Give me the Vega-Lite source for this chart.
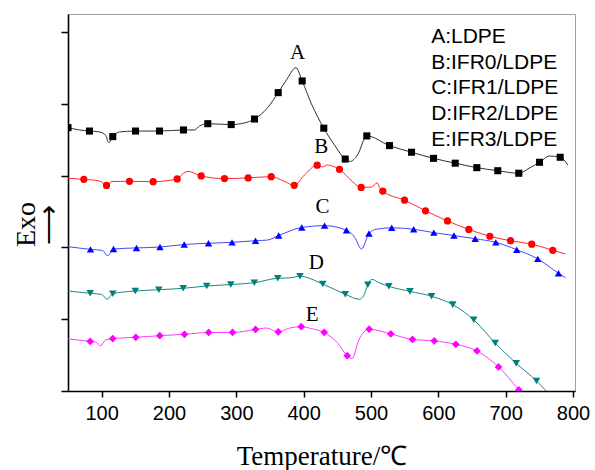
{
  "$schema": "https://vega.github.io/schema/vega-lite/v6.json",
  "width": 507,
  "height": 377,
  "autosize": "none",
  "padding": {"left": 68, "top": 14, "right": 20, "bottom": 79},
  "background": "white",
  "config": {
    "view": {"stroke": "#a0a0a0", "strokeWidth": 1},
    "axis": {"grid": false, "domainColor": "black", "domainWidth": 1.6, "tickColor": "#000000", "tickWidth": 1.5, "tickOpacity": 1, "labelColor": "black", "titleColor": "black", "titleFontWeight": "normal"}
  },
  "datasets": {
    "curves": [
      {"s": "A", "T": 50, "v": 14.67, "m": 1},
      {"s": "A", "T": 67.1, "v": 14.54, "m": 0},
      {"s": "A", "T": 81.9, "v": 14.48, "m": 1},
      {"s": "A", "T": 96.8, "v": 14.43, "m": 0},
      {"s": "A", "T": 105.7, "v": 14.26, "m": 0},
      {"s": "A", "T": 110.6, "v": 13.83, "m": 0},
      {"s": "A", "T": 116.5, "v": 14.17, "m": 1},
      {"s": "A", "T": 126.5, "v": 14.43, "m": 0},
      {"s": "A", "T": 150.3, "v": 14.48, "m": 1},
      {"s": "A", "T": 185.9, "v": 14.48, "m": 1},
      {"s": "A", "T": 221.5, "v": 14.54, "m": 1},
      {"s": "A", "T": 237.9, "v": 14.54, "m": 0},
      {"s": "A", "T": 245.3, "v": 14.76, "m": 0},
      {"s": "A", "T": 257.6, "v": 14.89, "m": 1},
      {"s": "A", "T": 292.4, "v": 14.84, "m": 1},
      {"s": "A", "T": 312.1, "v": 14.93, "m": 0},
      {"s": "A", "T": 327, "v": 15.15, "m": 1},
      {"s": "A", "T": 346.3, "v": 15.77, "m": 0},
      {"s": "A", "T": 362.2, "v": 16.62, "m": 1},
      {"s": "A", "T": 374.5, "v": 17.33, "m": 0},
      {"s": "A", "T": 388.6, "v": 18.01, "m": 0},
      {"s": "A", "T": 397.8, "v": 17.27, "m": 1},
      {"s": "A", "T": 411.6, "v": 15.99, "m": 0},
      {"s": "A", "T": 429.9, "v": 14.64, "m": 1},
      {"s": "A", "T": 445.8, "v": 13.7, "m": 0},
      {"s": "A", "T": 461.7, "v": 12.92, "m": 1},
      {"s": "A", "T": 469.6, "v": 12.79, "m": 0},
      {"s": "A", "T": 480, "v": 13.15, "m": 0},
      {"s": "A", "T": 493.8, "v": 14.21, "m": 1},
      {"s": "A", "T": 527.5, "v": 13.67, "m": 1},
      {"s": "A", "T": 560.2, "v": 13.3, "m": 1},
      {"s": "A", "T": 592.9, "v": 12.96, "m": 1},
      {"s": "A", "T": 625.1, "v": 12.69, "m": 1},
      {"s": "A", "T": 657.2, "v": 12.44, "m": 1},
      {"s": "A", "T": 688.3, "v": 12.27, "m": 1},
      {"s": "A", "T": 719.5, "v": 12.13, "m": 1},
      {"s": "A", "T": 735.4, "v": 12.42, "m": 0},
      {"s": "A", "T": 750.3, "v": 12.74, "m": 1},
      {"s": "A", "T": 765.2, "v": 13.09, "m": 0},
      {"s": "A", "T": 781, "v": 13.02, "m": 1},
      {"s": "A", "T": 792.3, "v": 12.59, "m": 0},

      {"s": "B", "T": 50, "v": 11.85, "m": 0},
      {"s": "B", "T": 73.5, "v": 11.79, "m": 1},
      {"s": "B", "T": 96.8, "v": 11.7, "m": 0},
      {"s": "B", "T": 107.2, "v": 11.45, "m": 1},
      {"s": "B", "T": 114.6, "v": 11.67, "m": 0},
      {"s": "B", "T": 141.3, "v": 11.68, "m": 1},
      {"s": "B", "T": 176.5, "v": 11.66, "m": 1},
      {"s": "B", "T": 212.2, "v": 11.81, "m": 1},
      {"s": "B", "T": 220.1, "v": 12.09, "m": 0},
      {"s": "B", "T": 228.2, "v": 12.23, "m": 0},
      {"s": "B", "T": 247.8, "v": 11.98, "m": 1},
      {"s": "B", "T": 282.4, "v": 11.83, "m": 1},
      {"s": "B", "T": 317.6, "v": 11.87, "m": 1},
      {"s": "B", "T": 351.8, "v": 11.94, "m": 1},
      {"s": "B", "T": 370, "v": 11.7, "m": 0},
      {"s": "B", "T": 386, "v": 11.46, "m": 1},
      {"s": "B", "T": 401.2, "v": 12.03, "m": 0},
      {"s": "B", "T": 420.1, "v": 12.58, "m": 1},
      {"s": "B", "T": 428, "v": 12.48, "m": 0},
      {"s": "B", "T": 435.4, "v": 12.59, "m": 0},
      {"s": "B", "T": 444.3, "v": 12.51, "m": 0},
      {"s": "B", "T": 453.2, "v": 12.35, "m": 1},
      {"s": "B", "T": 472.5, "v": 11.66, "m": 0},
      {"s": "B", "T": 485.4, "v": 11.34, "m": 1},
      {"s": "B", "T": 500.8, "v": 11.36, "m": 0},
      {"s": "B", "T": 509.2, "v": 11.6, "m": 0},
      {"s": "B", "T": 512.7, "v": 11.34, "m": 0},
      {"s": "B", "T": 517.5, "v": 11.14, "m": 1},
      {"s": "B", "T": 549.8, "v": 10.63, "m": 1},
      {"s": "B", "T": 581, "v": 10.04, "m": 1},
      {"s": "B", "T": 613.6, "v": 9.47, "m": 1},
      {"s": "B", "T": 645.3, "v": 9.0, "m": 1},
      {"s": "B", "T": 676.5, "v": 8.62, "m": 1},
      {"s": "B", "T": 707.2, "v": 8.37, "m": 1},
      {"s": "B", "T": 738.8, "v": 8.18, "m": 1},
      {"s": "B", "T": 770, "v": 7.84, "m": 1},
      {"s": "B", "T": 788.9, "v": 7.63, "m": 0},

      {"s": "C", "T": 50, "v": 8.04, "m": 0},
      {"s": "C", "T": 83.4, "v": 7.89, "m": 1},
      {"s": "C", "T": 101.2, "v": 7.83, "m": 0},
      {"s": "C", "T": 109.1, "v": 7.54, "m": 0},
      {"s": "C", "T": 117.6, "v": 7.91, "m": 1},
      {"s": "C", "T": 151.7, "v": 7.97, "m": 1},
      {"s": "C", "T": 186.6, "v": 8.02, "m": 1},
      {"s": "C", "T": 222.6, "v": 8.16, "m": 1},
      {"s": "C", "T": 258.7, "v": 8.23, "m": 1},
      {"s": "C", "T": 293.6, "v": 8.28, "m": 1},
      {"s": "C", "T": 328.5, "v": 8.37, "m": 1},
      {"s": "C", "T": 346.3, "v": 8.41, "m": 0},
      {"s": "C", "T": 362.9, "v": 8.66, "m": 1},
      {"s": "C", "T": 397.2, "v": 9.11, "m": 1},
      {"s": "C", "T": 431, "v": 9.21, "m": 1},
      {"s": "C", "T": 463.6, "v": 8.95, "m": 1},
      {"s": "C", "T": 475.5, "v": 8.58, "m": 0},
      {"s": "C", "T": 485.9, "v": 7.91, "m": 0},
      {"s": "C", "T": 497, "v": 8.77, "m": 1},
      {"s": "C", "T": 507.7, "v": 9.01, "m": 0},
      {"s": "C", "T": 530.8, "v": 9.09, "m": 1},
      {"s": "C", "T": 563.4, "v": 9.01, "m": 1},
      {"s": "C", "T": 593.3, "v": 8.82, "m": 1},
      {"s": "C", "T": 623.3, "v": 8.66, "m": 1},
      {"s": "C", "T": 654.8, "v": 8.48, "m": 1},
      {"s": "C", "T": 685.4, "v": 8.28, "m": 1},
      {"s": "C", "T": 716.5, "v": 7.87, "m": 1},
      {"s": "C", "T": 747.7, "v": 7.36, "m": 1},
      {"s": "C", "T": 778.5, "v": 6.56, "m": 1},
      {"s": "C", "T": 788.9, "v": 6.31, "m": 0},

      {"s": "D", "T": 50, "v": 5.57, "m": 0},
      {"s": "D", "T": 83, "v": 5.44, "m": 1},
      {"s": "D", "T": 99.8, "v": 5.38, "m": 0},
      {"s": "D", "T": 108.2, "v": 5.11, "m": 0},
      {"s": "D", "T": 116.5, "v": 5.42, "m": 1},
      {"s": "D", "T": 150, "v": 5.57, "m": 1},
      {"s": "D", "T": 184.9, "v": 5.64, "m": 1},
      {"s": "D", "T": 221.1, "v": 5.72, "m": 1},
      {"s": "D", "T": 256, "v": 5.85, "m": 1},
      {"s": "D", "T": 291.8, "v": 5.93, "m": 1},
      {"s": "D", "T": 326.7, "v": 6.03, "m": 1},
      {"s": "D", "T": 361.6, "v": 6.28, "m": 1},
      {"s": "D", "T": 379, "v": 6.3, "m": 0},
      {"s": "D", "T": 394.5, "v": 6.39, "m": 1},
      {"s": "D", "T": 428.4, "v": 5.96, "m": 1},
      {"s": "D", "T": 461.8, "v": 5.39, "m": 1},
      {"s": "D", "T": 482.9, "v": 5.11, "m": 0},
      {"s": "D", "T": 488.9, "v": 5.29, "m": 0},
      {"s": "D", "T": 495.3, "v": 5.92, "m": 1},
      {"s": "D", "T": 501.1, "v": 6.22, "m": 0},
      {"s": "D", "T": 512.6, "v": 6.02, "m": 0},
      {"s": "D", "T": 526.5, "v": 5.83, "m": 1},
      {"s": "D", "T": 557.8, "v": 5.55, "m": 1},
      {"s": "D", "T": 589.9, "v": 5.28, "m": 1},
      {"s": "D", "T": 621.4, "v": 4.81, "m": 1},
      {"s": "D", "T": 652.6, "v": 3.97, "m": 1},
      {"s": "D", "T": 684.5, "v": 2.67, "m": 1},
      {"s": "D", "T": 715.7, "v": 1.54, "m": 1},
      {"s": "D", "T": 745.8, "v": 0.56, "m": 1},
      {"s": "D", "T": 760.2, "v": 0.0, "m": 0},

      {"s": "E", "T": 50, "v": 2.9, "m": 0},
      {"s": "E", "T": 83, "v": 2.76, "m": 1},
      {"s": "E", "T": 90.8, "v": 2.73, "m": 0},
      {"s": "E", "T": 98.7, "v": 2.52, "m": 0},
      {"s": "E", "T": 105.7, "v": 2.84, "m": 0},
      {"s": "E", "T": 116.5, "v": 2.92, "m": 1},
      {"s": "E", "T": 150.7, "v": 2.99, "m": 1},
      {"s": "E", "T": 186.3, "v": 3.08, "m": 1},
      {"s": "E", "T": 223, "v": 3.16, "m": 1},
      {"s": "E", "T": 258.9, "v": 3.26, "m": 1},
      {"s": "E", "T": 294.3, "v": 3.26, "m": 1},
      {"s": "E", "T": 328.5, "v": 3.43, "m": 1},
      {"s": "E", "T": 344.4, "v": 3.51, "m": 0},
      {"s": "E", "T": 362.3, "v": 3.29, "m": 1},
      {"s": "E", "T": 379, "v": 3.51, "m": 0},
      {"s": "E", "T": 396.4, "v": 3.58, "m": 1},
      {"s": "E", "T": 413.1, "v": 3.46, "m": 0},
      {"s": "E", "T": 430.5, "v": 3.27, "m": 1},
      {"s": "E", "T": 450.7, "v": 2.66, "m": 0},
      {"s": "E", "T": 464.7, "v": 1.97, "m": 1},
      {"s": "E", "T": 471.8, "v": 1.8, "m": 0},
      {"s": "E", "T": 481.9, "v": 2.84, "m": 0},
      {"s": "E", "T": 497.3, "v": 3.44, "m": 1},
      {"s": "E", "T": 529.4, "v": 3.18, "m": 1},
      {"s": "E", "T": 561.6, "v": 2.87, "m": 1},
      {"s": "E", "T": 593.9, "v": 2.79, "m": 1},
      {"s": "E", "T": 626, "v": 2.6, "m": 1},
      {"s": "E", "T": 657.4, "v": 2.23, "m": 1},
      {"s": "E", "T": 689.4, "v": 1.34, "m": 1},
      {"s": "E", "T": 719.5, "v": 0.06, "m": 1}
    ],
    "labels": [
      {"t": "A", "T": 391, "v": 18.83},
      {"t": "B", "T": 426, "v": 13.61},
      {"t": "C", "T": 428, "v": 10.27},
      {"t": "D", "T": 419, "v": 7.11},
      {"t": "E", "T": 412.5, "v": 4.23}
    ],
    "legend": [
      {"t": "A:LDPE", "T": 589.4, "v": 19.74},
      {"t": "B:IFR0/LDPE", "T": 589.4, "v": 18.29},
      {"t": "C:IFR1/LDPE", "T": 589.4, "v": 16.87},
      {"t": "D:IFR2/LDPE", "T": 589.4, "v": 15.42},
      {"t": "E:IFR3/LDPE", "T": 589.4, "v": 13.99}
    ]
  },
  "layer": [
    {
      "data": {"name": "curves"},
      "mark": {"type": "line", "interpolate": "monotone", "strokeWidth": 1, "clip": true},
      "encoding": {
        "x": {
          "field": "T", "type": "quantitative",
          "scale": {"domain": [50, 803], "nice": false, "zero": false},
          "axis": {
            "values": [100, 150, 200, 250, 300, 350, 400, 450, 500, 550, 600, 650, 700, 750, 800],
            "labelExpr": "datum.value % 100 === 0 ? datum.label : ''",
            "ticks": true, "tickSize": 6,
            "labelFont": "Liberation Sans", "labelFontSize": 20, "labelPadding": 6,
            "labelFlush": false, "labelOverlap": false,
            "title": "Temperature/℃", "titleFont": "Liberation Serif", "titleFontSize": 27,
            "titleBaseline": "alphabetic", "titleY": 73
          }
        },
        "y": {
          "field": "v", "type": "quantitative",
          "scale": {"domain": [0, 21], "nice": false, "zero": false},
          "axis": {
            "values": [0, 1, 2, 3, 4, 5, 6, 7, 8, 9, 10, 11, 12, 13, 14, 15, 16, 17, 18, 19, 20, 21],
            "labels": false, "ticks": true, "tickSize": 7,
            "title": ["Exo", "⟶"], "titleFont": "Liberation Serif", "titleFontSize": 28,
            "titleLineHeight": 23, "titleAngle": 270, "titleAlign": "center", "titleBaseline": "middle",
            "titleX": -42, "titleY": 210
          }
        },
        "stroke": {
          "field": "s", "type": "nominal",
          "scale": {"domain": ["A", "B", "C", "D", "E"], "range": ["#303030", "#ff2a2a", "#4646ff", "#1a8a80", "#ff3cff"]},
          "legend": null
        }
      }
    },
    {
      "data": {"name": "curves"},
      "transform": [{"filter": "datum.m === 1"}],
      "mark": {"type": "point", "filled": true, "opacity": 1, "strokeWidth": 0, "clip": true},
      "encoding": {
        "x": {"field": "T", "type": "quantitative"},
        "y": {"field": "v", "type": "quantitative"},
        "fill": {
          "field": "s", "type": "nominal",
          "scale": {"domain": ["A", "B", "C", "D", "E"], "range": ["#000000", "#ff0000", "#0000ff", "#007f7f", "#ff00ff"]},
          "legend": null
        },
        "shape": {
          "field": "s", "type": "nominal",
          "scale": {"domain": ["A", "B", "C", "D", "E"], "range": ["square", "circle", "triangle-up", "triangle-down", "diamond"]},
          "legend": null
        },
        "size": {
          "field": "s", "type": "ordinal",
          "scale": {"domain": ["A", "B", "C", "D", "E"], "range": [50, 60, 85, 85, 75]},
          "legend": null
        }
      }
    },
    {
      "data": {"name": "labels"},
      "mark": {"type": "text", "font": "Liberation Serif", "fontSize": 21, "color": "black", "align": "center", "baseline": "middle"},
      "encoding": {
        "x": {"field": "T", "type": "quantitative"},
        "y": {"field": "v", "type": "quantitative"},
        "text": {"field": "t"}
      }
    },
    {
      "data": {"name": "legend"},
      "mark": {"type": "text", "font": "Liberation Sans", "fontSize": 21, "color": "black", "align": "left", "baseline": "middle"},
      "encoding": {
        "x": {"field": "T", "type": "quantitative"},
        "y": {"field": "v", "type": "quantitative"},
        "text": {"field": "t"}
      }
    }
  ]
}
